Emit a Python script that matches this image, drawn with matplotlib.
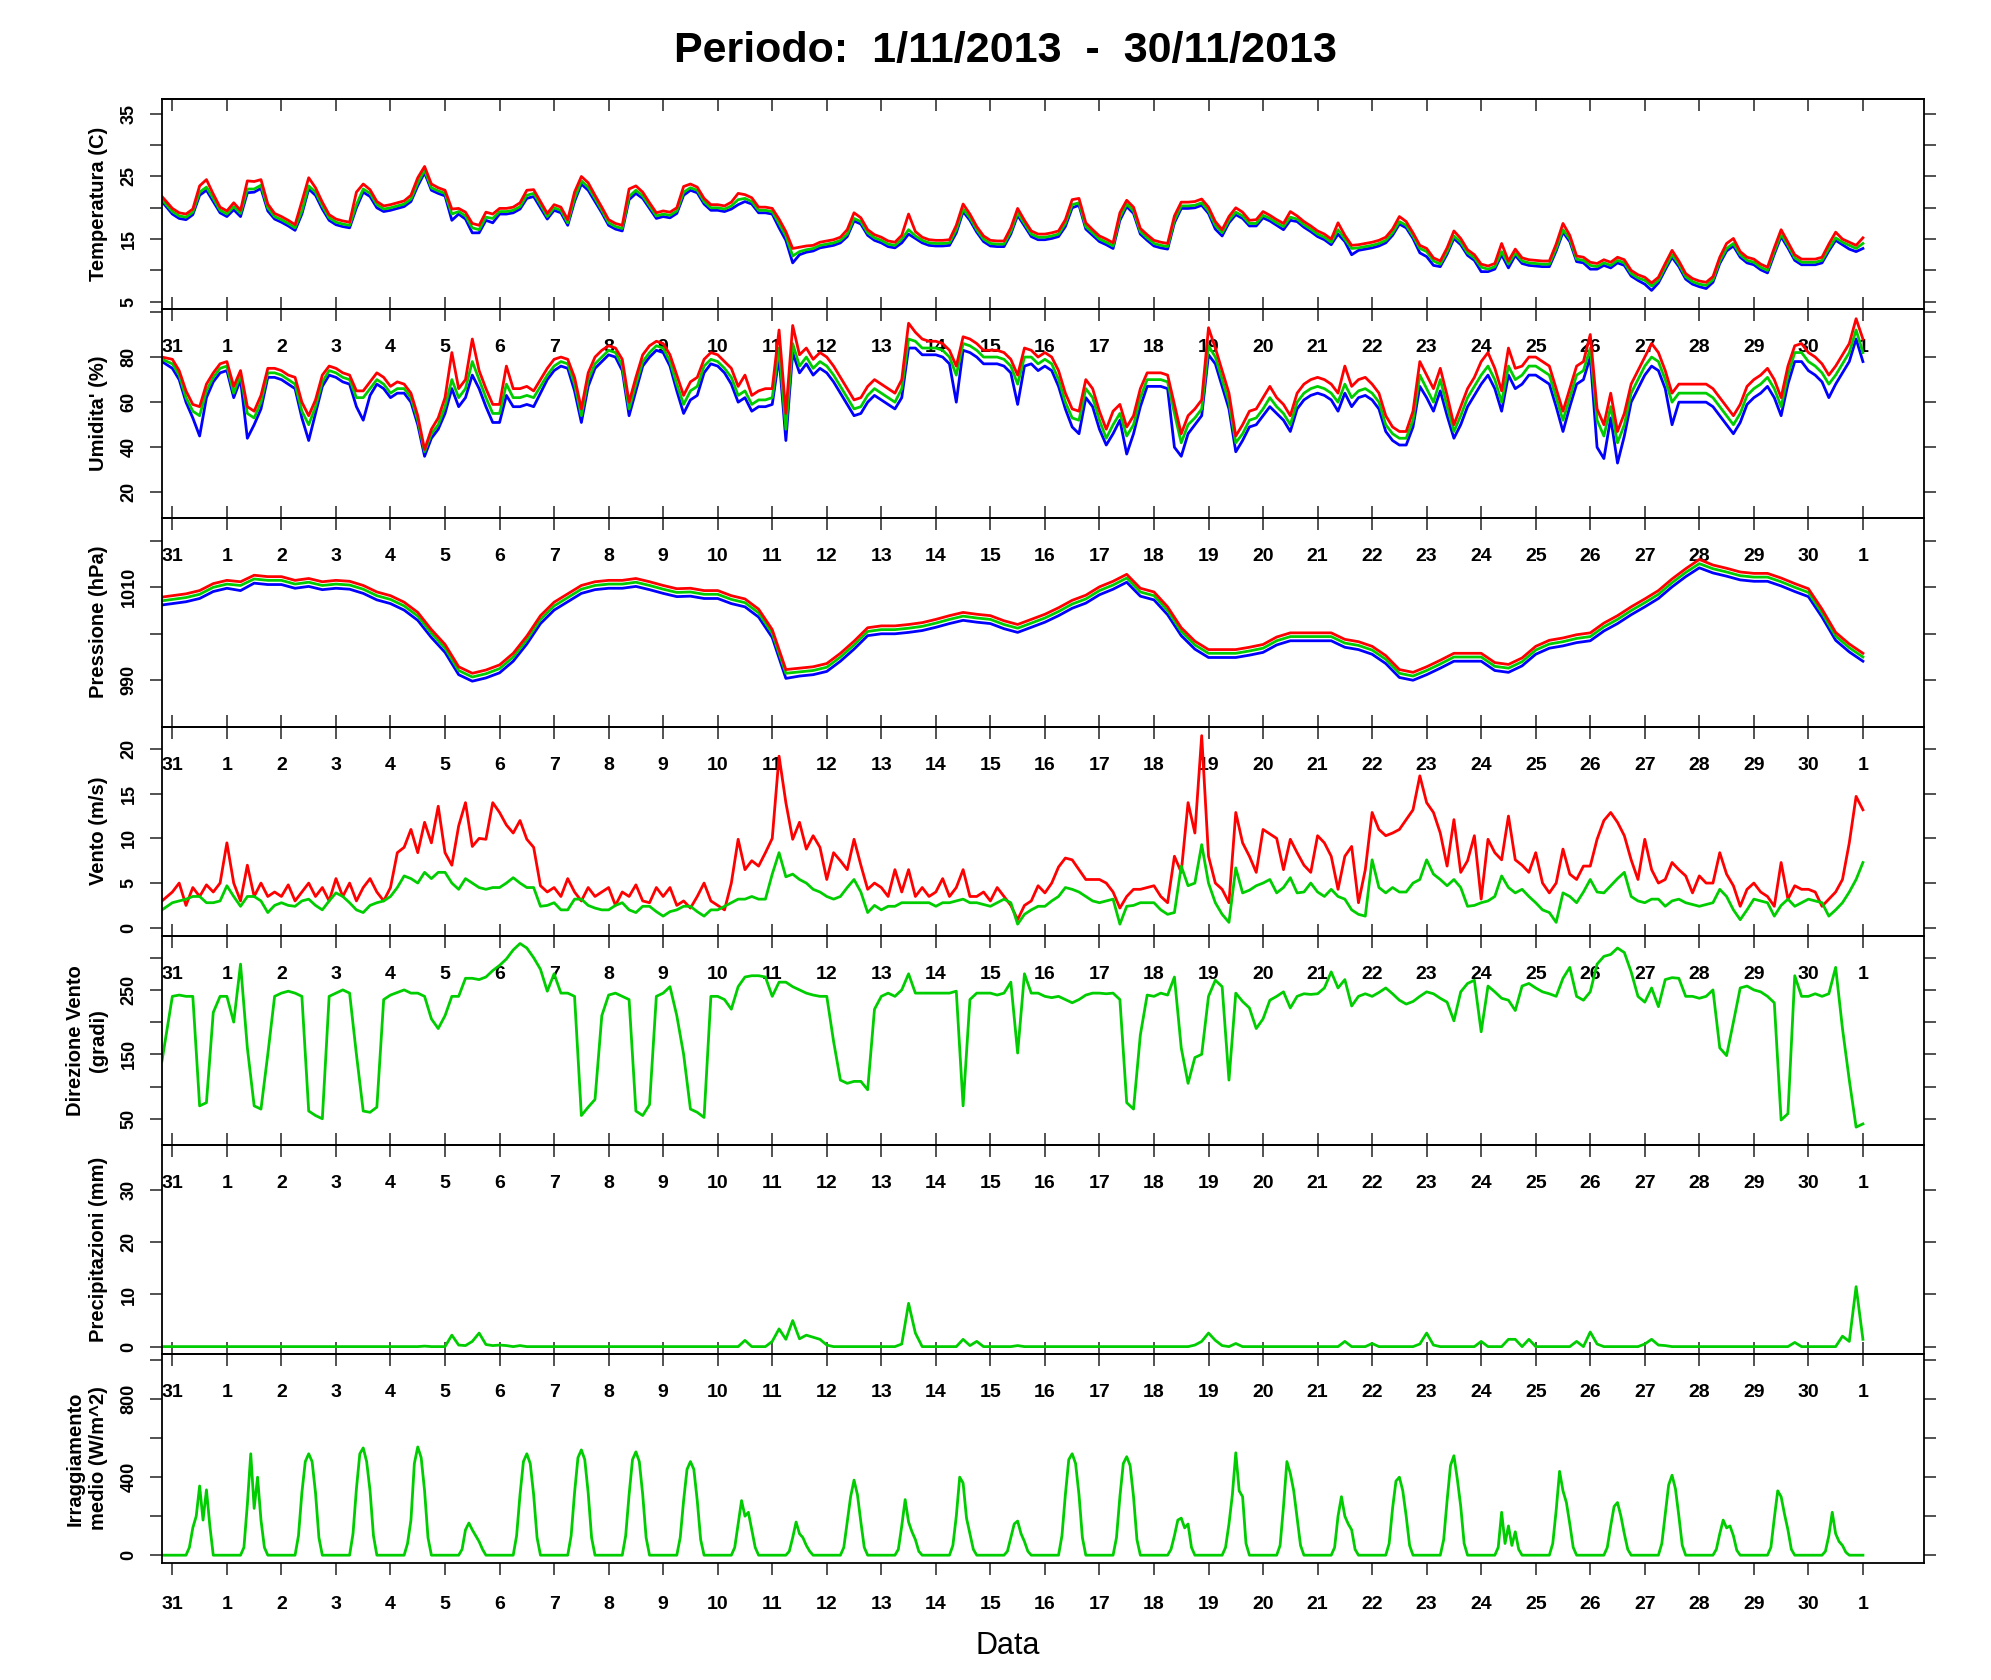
import numpy as np
import matplotlib
matplotlib.use('Agg')
import matplotlib.pyplot as plt

plt.rcParams['font.family'] = ['Liberation Sans', 'DejaVu Sans']

# ---------------- data ----------------
T_START = -0.19          # first sample (days from tick "31")
day_ticks = list(range(32))
day_labels = ['31'] + [str(d) for d in range(1, 31)] + ['1']

# 3-hourly series: start value, 31 days x 8 values, end value
temp_red = [21.8,
 19.9, 19.2, 19.0, 19.8, 23.5, 24.5, 22.2, 20.1,
 19.5, 20.8, 19.6, 24.3, 24.2, 24.5, 20.6, 19.1,
 18.6, 18.0, 17.3, 21.0, 24.8, 23.2, 20.9, 18.9,
 18.2, 17.9, 17.7, 22.5, 23.8, 22.9, 21.0, 20.3,
 20.5, 20.8, 21.1, 22.0, 24.8, 26.6, 23.8, 23.2,
 22.8, 19.8, 19.9, 19.3, 17.5, 17.2, 19.3, 19.0,
 19.9, 19.9, 20.1, 20.8, 22.8, 22.9, 21.0, 19.1,
 20.5, 20.1, 18.1, 22.5, 25.0, 24.0, 22.0, 20.1,
 18.1, 17.5, 17.2, 23.0, 23.5, 22.5, 20.8, 19.2,
 19.5, 19.3, 20.0, 23.4, 23.8, 23.3, 21.5, 20.5,
 20.5, 20.3, 20.9, 22.3, 22.1, 21.6, 20.1, 20.1,
 19.9, 18.2, 16.2, 13.5, 13.7, 13.9, 14.0, 14.5,
 14.7, 14.9, 15.3, 16.5, 19.2, 18.4, 16.5, 15.7,
 15.3, 14.7, 14.5, 15.6, 19.0, 16.2, 15.3, 14.9,
 14.8, 14.8, 14.9, 17.2, 20.6, 19.0, 17.0, 15.5,
 14.8, 14.7, 14.7, 16.8, 19.9, 18.0, 16.3, 15.8,
 15.8, 16.0, 16.3, 18.1, 21.3, 21.5, 17.6, 16.5,
 15.5, 15.0, 14.4, 19.2, 21.2, 20.1, 16.7, 15.7,
 14.8, 14.5, 14.3, 18.7, 20.9, 20.9, 21.0, 21.4,
 20.1, 17.8, 16.5, 18.6, 20.0, 19.3, 18.0, 18.1,
 19.4, 18.8, 18.1, 17.5, 19.4, 18.7, 17.8, 17.1,
 16.3, 15.8, 15.0, 17.6, 15.6, 14.0, 14.1, 14.3,
 14.5, 14.8, 15.3, 16.6, 18.6, 17.8, 16.0, 14.0,
 13.5, 12.0, 11.5, 13.6, 16.3, 15.1, 13.3, 12.5,
 11.0, 10.7, 11.1, 14.3, 11.5, 13.4, 12.0, 11.7,
 11.6, 11.5, 11.5, 14.2, 17.5, 15.6, 12.3, 12.1,
 11.3, 11.1, 11.7, 11.3, 12.1, 11.7, 10.0, 9.3,
 8.9, 8.0, 8.9, 11.1, 13.2, 11.5, 9.5, 8.7,
 8.3, 8.1, 9.0, 12.1, 14.3, 15.1, 13.0, 12.1,
 11.8, 11.0, 10.5, 13.6, 16.5, 14.5, 12.5, 11.8,
 11.8, 11.8, 12.1, 14.2, 16.1, 15.0, 14.5, 14.0,
 15.2]

temp_green = [21.3,
 19.4, 18.7, 18.5, 19.3, 22.5, 23.3, 21.5, 19.6,
 19.0, 20.2, 19.1, 23.0, 23.0, 23.6, 20.0, 18.6,
 18.1, 17.5, 16.8, 19.5, 23.5, 22.5, 20.3, 18.4,
 17.7, 17.4, 17.2, 20.5, 23.0, 22.3, 20.5, 19.8,
 20.0, 20.3, 20.6, 21.4, 24.0, 26.0, 23.2, 22.7,
 22.3, 19.0, 19.4, 18.7, 16.8, 16.5, 18.5, 18.3,
 19.4, 19.4, 19.6, 20.2, 22.0, 22.3, 20.5, 18.6,
 20.0, 19.6, 17.6, 21.5, 24.3, 23.3, 21.5, 19.6,
 17.6, 17.0, 16.7, 21.8, 22.8, 21.9, 20.3, 18.7,
 19.0, 18.8, 19.5, 22.5, 23.2, 22.8, 21.0, 20.0,
 20.0, 19.8, 20.3, 21.3, 21.5, 21.0, 19.6, 19.6,
 19.4, 17.5, 15.5, 12.3, 13.0, 13.3, 13.5, 14.0,
 14.2, 14.4, 14.8, 15.8, 18.3, 17.8, 16.0, 15.2,
 14.8, 14.2, 14.0, 15.0, 16.5, 15.5, 14.8, 14.4,
 14.3, 14.3, 14.4, 16.5, 19.8, 18.4, 16.5, 15.0,
 14.3, 14.2, 14.2, 16.2, 19.2, 17.5, 15.8, 15.3,
 15.3, 15.5, 15.8, 17.5, 20.5, 20.8, 17.0, 16.0,
 15.0, 14.5, 13.9, 18.5, 20.6, 19.5, 16.2, 15.2,
 14.3, 14.0, 13.8, 18.0, 20.3, 20.3, 20.4, 20.8,
 19.5, 17.2, 16.0, 18.0, 19.3, 18.7, 17.5, 17.5,
 18.8, 18.3, 17.6, 17.0, 18.5, 18.2, 17.3, 16.6,
 15.8, 15.3, 14.5, 16.5, 15.0, 13.5, 13.6, 13.8,
 14.0, 14.3, 14.8, 16.0, 17.8, 17.2, 15.5, 13.5,
 13.0, 11.5, 11.0, 13.0, 15.5, 14.5, 12.8, 12.0,
 10.5, 10.2, 10.6, 13.0, 11.0, 12.8, 11.5, 11.2,
 11.1, 11.0, 11.0, 13.5, 16.5, 15.0, 11.8, 11.6,
 10.8, 10.6, 11.2, 10.8, 11.6, 11.2, 9.5, 8.8,
 8.4, 7.5, 8.4, 10.5, 12.5, 11.0, 9.0, 8.2,
 7.8, 7.6, 8.5, 11.5, 13.5, 14.3, 12.5, 11.6,
 11.3, 10.5, 10.0, 13.0, 15.8, 14.0, 12.0, 11.3,
 11.3, 11.3, 11.6, 13.5, 15.2, 14.5, 14.0, 13.5,
 14.3]

temp_blue = [21.0,
 19.0, 18.3, 18.1, 18.9, 22.0, 22.8, 21.0, 19.2,
 18.6, 19.7, 18.6, 22.4, 22.5, 23.1, 19.5, 18.2,
 17.7, 17.1, 16.4, 19.0, 23.0, 22.0, 19.8, 18.0,
 17.3, 17.0, 16.8, 20.0, 22.5, 21.8, 20.0, 19.4,
 19.6, 19.9, 20.2, 21.0, 23.5, 25.6, 22.8, 22.3,
 21.9, 18.0, 19.0, 18.2, 16.0, 16.0, 18.0, 17.6,
 19.0, 19.0, 19.2, 19.8, 21.5, 21.8, 20.0, 18.2,
 19.6, 19.2, 17.2, 21.0, 23.8, 22.8, 21.0, 19.2,
 17.2, 16.6, 16.3, 21.3, 22.3, 21.5, 19.9, 18.3,
 18.6, 18.4, 19.1, 22.0, 22.8, 22.4, 20.6, 19.6,
 19.6, 19.4, 19.8, 20.5, 21.0, 20.6, 19.2, 19.2,
 19.0, 16.8, 14.8, 11.2, 12.5, 12.9, 13.1, 13.6,
 13.8, 14.0, 14.4, 15.4, 17.9, 17.4, 15.6, 14.8,
 14.4, 13.8, 13.6, 14.4, 15.8, 15.1, 14.4, 14.0,
 13.9, 13.9, 14.0, 16.0, 19.4, 18.0, 16.1, 14.6,
 13.9, 13.8, 13.8, 15.8, 18.8, 17.1, 15.4, 14.9,
 14.9, 15.1, 15.4, 17.0, 20.0, 20.4, 16.6, 15.6,
 14.6, 14.1, 13.5, 18.0, 20.2, 19.1, 15.8, 14.8,
 13.9, 13.6, 13.4, 17.6, 19.9, 19.9, 20.0, 20.4,
 19.1, 16.6, 15.5, 17.6, 18.9, 18.3, 17.1, 17.1,
 18.4, 17.9, 17.2, 16.5, 18.0, 17.8, 16.9, 16.2,
 15.4, 14.9, 14.1, 15.8, 14.6, 12.5, 13.2, 13.4,
 13.6, 13.9, 14.4, 15.6, 17.4, 16.8, 15.1, 12.8,
 12.2, 10.8, 10.6, 12.6, 15.1, 14.1, 12.4, 11.6,
 9.8, 9.8, 10.2, 12.5, 10.4, 12.4, 11.1, 10.8,
 10.7, 10.6, 10.6, 13.1, 16.1, 14.6, 11.4, 11.2,
 10.2, 10.2, 10.8, 10.4, 11.2, 10.8, 9.1, 8.4,
 7.8, 6.8, 8.0, 10.1, 12.1, 10.6, 8.6, 7.8,
 7.4, 7.1, 8.1, 11.1, 13.1, 13.9, 12.1, 11.2,
 10.9, 10.1, 9.6, 12.6, 15.4, 13.6, 11.6, 10.9,
 10.9, 10.9, 11.2, 13.1, 14.8, 14.1, 13.4, 13.0,
 13.5]

hum_red = [80,
 79, 74, 65, 59, 58, 68, 73, 77,
 78, 67, 74, 58, 56, 63, 75, 75,
 74, 72, 71, 60, 54, 61, 72, 76,
 75, 73, 72, 65, 65, 69, 73, 71,
 67, 69, 68, 64, 54, 39, 48, 53,
 62, 82, 66, 70, 88, 74, 66, 59,
 59, 76, 66, 66, 67, 65, 70, 75,
 79, 80, 79, 71, 57, 73, 80, 83,
 85, 84, 79, 60, 71, 81, 85, 87,
 86, 81, 72, 63, 69, 71, 79, 82,
 81, 78, 75, 67, 72, 63, 65, 66,
 66, 92, 55, 94, 81, 84, 79, 82,
 80, 76, 71, 66, 61, 62, 67, 70,
 68, 66, 64, 70, 95, 91, 88, 87,
 87, 86, 83, 76, 89, 88, 86, 83,
 83, 83, 82, 79, 72, 84, 83, 80,
 82, 80, 74, 64, 57, 56, 70, 66,
 56, 48, 56, 59, 49, 54, 66, 73,
 73, 73, 72, 59, 46, 54, 57, 61,
 93, 84, 74, 64, 45, 50, 56, 57,
 62, 67, 62, 59, 54, 64, 68, 70,
 71, 70, 68, 64, 76, 67, 70, 71,
 68, 64, 54, 49, 47, 47, 56, 78,
 72, 66, 75, 63, 50, 58, 66, 71,
 78, 82, 75, 65, 84, 75, 76, 80,
 80, 78, 76, 66, 56, 66, 76, 78,
 90, 57, 50, 64, 47, 55, 68, 74,
 80, 86, 82, 74, 64, 68, 68, 68,
 68, 68, 66, 62, 58, 54, 59, 67,
 70, 72, 75, 70, 62, 76, 85, 86,
 82, 80, 77, 72, 76, 81, 86, 97,
 88]

hum_green = [79,
 77, 72, 62, 56, 54, 65, 71, 75,
 76, 64, 72, 55, 53, 60, 73, 73,
 72, 70, 68, 56, 50, 58, 69, 74,
 73, 71, 70, 62, 62, 66, 70, 68,
 64, 66, 66, 62, 52, 38, 46, 50,
 58, 70, 62, 66, 78, 70, 62, 55,
 55, 68, 62, 62, 63, 62, 67, 72,
 76, 78, 77, 68, 54, 70, 77, 80,
 83, 82, 76, 57, 68, 78, 82, 85,
 84, 78, 68, 59, 65, 67, 76, 79,
 78, 75, 71, 63, 65, 59, 61, 61,
 62, 84, 48, 86, 76, 80, 75, 78,
 76, 72, 67, 62, 57, 58, 63, 66,
 64, 62, 60, 66, 88, 87, 84, 84,
 84, 83, 80, 72, 86, 85, 83, 80,
 80, 80, 79, 76, 68, 80, 80, 77,
 79, 77, 70, 60, 53, 52, 66, 62,
 52, 44, 50, 55, 45, 50, 62, 70,
 70, 70, 69, 55, 42, 50, 53, 57,
 85, 80, 70, 60, 42, 46, 52, 53,
 57, 62, 58, 55, 50, 60, 64, 66,
 67, 66, 64, 60, 68, 62, 65, 66,
 64, 60, 50, 46, 44, 44, 52, 72,
 66, 60, 70, 58, 47, 54, 62, 67,
 72, 76, 70, 60, 76, 70, 72, 76,
 76, 74, 72, 62, 52, 62, 72, 74,
 84, 52, 45, 58, 42, 50, 64, 70,
 76, 80, 78, 70, 60, 64, 64, 64,
 64, 64, 62, 58, 54, 50, 55, 63,
 66, 68, 71, 66, 58, 72, 82, 82,
 78, 76, 73, 68, 72, 77, 82, 92,
 82]

hum_blue = [78,
 75, 70, 60, 53, 45, 62, 69, 73,
 74, 62, 70, 44, 50, 57, 71, 71,
 70, 68, 66, 53, 43, 55, 67, 72,
 71, 69, 68, 58, 52, 63, 68, 66,
 62, 64, 64, 60, 50, 36, 44, 48,
 55, 66, 58, 62, 72, 66, 58, 51,
 51, 63, 58, 58, 59, 58, 64, 70,
 74, 76, 75, 65, 51, 67, 75, 78,
 81, 80, 74, 54, 65, 76, 80, 83,
 82, 76, 65, 55, 61, 63, 73, 77,
 76, 73, 68, 60, 62, 56, 58, 58,
 59, 80, 43, 82, 73, 77, 72, 75,
 73, 69, 64, 59, 54, 55, 60, 63,
 61, 59, 57, 62, 84, 84, 81, 81,
 81, 80, 77, 60, 83, 82, 80, 77,
 77, 77, 76, 73, 59, 76, 77, 74,
 76, 74, 67, 57, 49, 46, 62, 58,
 48, 41, 46, 52, 37, 46, 58, 67,
 67, 67, 66, 40, 36, 46, 50, 54,
 81, 77, 67, 57, 38, 43, 49, 50,
 54, 58, 55, 52, 47, 57, 61, 63,
 64, 63, 61, 56, 64, 58, 62, 63,
 61, 57, 47, 43, 41, 41, 49, 67,
 62, 56, 65, 54, 44, 50, 58, 63,
 68, 72, 66, 56, 72, 66, 68, 72,
 72, 70, 68, 58, 47, 58, 68, 70,
 80, 40, 35, 53, 33, 45, 60, 66,
 72, 76, 74, 66, 50, 60, 60, 60,
 60, 60, 58, 54, 50, 46, 51, 59,
 62, 64, 67, 62, 54, 68, 78, 78,
 74, 72, 69, 62, 68, 73, 78, 88,
 78]

# 6-hourly pressure: start value, 31 days x 4 values, end value
pres_red = [1007.9,
 1008.2, 1008.6, 1009.3, 1010.8,
 1011.5, 1011.2, 1012.6, 1012.3,
 1012.3, 1011.5, 1011.9, 1011.2,
 1011.5, 1011.3, 1010.4, 1009.0,
 1008.2, 1006.8, 1004.6, 1000.9,
 997.7, 992.9, 991.5, 992.2,
 993.3, 995.8, 999.5, 1003.9,
 1006.8, 1008.6, 1010.4, 1011.2,
 1011.5, 1011.5, 1011.9, 1011.2,
 1010.4, 1009.7, 1009.8, 1009.3,
 1009.3, 1008.2, 1007.5, 1005.3,
 1000.9, 992.3, 992.6, 992.9,
 993.6, 995.8, 998.4, 1001.3,
 1001.7, 1001.7, 1002.0, 1002.4,
 1003.1, 1003.9, 1004.6, 1004.2,
 1003.9, 1002.8, 1002.0, 1003.1,
 1004.2, 1005.6, 1007.2, 1008.3,
 1010.1, 1011.3, 1012.8, 1009.8,
 1009.0, 1005.8, 1001.3, 998.4,
 996.6, 996.6, 996.6, 997.1,
 997.7, 999.3, 1000.2, 1000.2,
 1000.2, 1000.2, 998.8, 998.3,
 997.3, 995.3, 992.3, 991.7,
 992.9, 994.3, 995.8, 995.8,
 995.8, 993.8, 993.4, 994.8,
 997.3, 998.6, 999.1, 999.8,
 1000.2, 1002.3, 1003.9, 1005.8,
 1007.5, 1009.3, 1011.8, 1014.0,
 1016.0, 1014.8, 1014.1, 1013.3,
 1013.0, 1013.0, 1012.0, 1010.8,
 1009.7, 1005.3, 1000.3, 997.8,
 995.8]

pres_green = [1007.1,
 1007.4, 1007.8, 1008.5, 1010.0,
 1010.7, 1010.4, 1011.8, 1011.5,
 1011.5, 1010.7, 1011.1, 1010.4,
 1010.7, 1010.5, 1009.6, 1008.2,
 1007.4, 1006.0, 1003.8, 1000.1,
 996.9, 992.1, 990.7, 991.4,
 992.5, 995.0, 998.7, 1003.1,
 1006.0, 1007.8, 1009.6, 1010.4,
 1010.7, 1010.7, 1011.1, 1010.4,
 1009.6, 1008.9, 1009.0, 1008.5,
 1008.5, 1007.4, 1006.7, 1004.5,
 1000.1, 991.5, 991.8, 992.1,
 992.8, 995.0, 997.6, 1000.5,
 1000.9, 1000.9, 1001.2, 1001.6,
 1002.3, 1003.1, 1003.8, 1003.4,
 1003.1, 1002.0, 1001.2, 1002.3,
 1003.4, 1004.8, 1006.4, 1007.5,
 1009.3, 1010.5, 1012.0, 1009.0,
 1008.2, 1005.0, 1000.5, 997.6,
 995.8, 995.8, 995.8, 996.3,
 996.9, 998.5, 999.4, 999.4,
 999.4, 999.4, 998.0, 997.5,
 996.5, 994.5, 991.5, 990.9,
 992.1, 993.5, 995.0, 995.0,
 995.0, 993.0, 992.6, 994.0,
 996.5, 997.8, 998.3, 999.0,
 999.4, 1001.5, 1003.1, 1005.0,
 1006.7, 1008.5, 1011.0, 1013.2,
 1015.1, 1014.0, 1013.3, 1012.5,
 1012.2, 1012.2, 1011.2, 1010.0,
 1008.9, 1004.5, 999.5, 997.0,
 995.0]

pres_blue = [1006.2,
 1006.5, 1006.9, 1007.6, 1009.1,
 1009.8, 1009.3, 1010.9, 1010.6,
 1010.6, 1009.8, 1010.2, 1009.5,
 1009.8, 1009.6, 1008.7, 1007.3,
 1006.5, 1005.1, 1002.9, 999.2,
 996.0, 991.2, 989.8, 990.5,
 991.6, 994.1, 997.8, 1002.2,
 1005.1, 1006.9, 1008.7, 1009.5,
 1009.8, 1009.8, 1010.2, 1009.5,
 1008.7, 1008.0, 1008.1, 1007.6,
 1007.6, 1006.5, 1005.8, 1003.6,
 999.2, 990.4, 990.9, 991.2,
 991.9, 994.1, 996.7, 999.6,
 1000.0, 1000.0, 1000.3, 1000.7,
 1001.4, 1002.2, 1002.9, 1002.5,
 1002.2, 1001.1, 1000.3, 1001.4,
 1002.5, 1003.9, 1005.5, 1006.6,
 1008.4, 1009.6, 1011.1, 1008.1,
 1007.3, 1004.1, 999.6, 996.7,
 994.9, 994.9, 994.9, 995.4,
 996.0, 997.6, 998.5, 998.5,
 998.5, 998.5, 997.1, 996.6,
 995.6, 993.6, 990.6, 990.0,
 991.2, 992.6, 994.1, 994.1,
 994.1, 992.1, 991.7, 993.1,
 995.6, 996.9, 997.4, 998.1,
 998.5, 1000.6, 1002.2, 1004.1,
 1005.8, 1007.6, 1010.1, 1012.3,
 1014.2, 1013.1, 1012.4, 1011.6,
 1011.3, 1011.3, 1010.3, 1009.1,
 1008.0, 1003.6, 998.6, 996.1,
 994.1]

wind_gust = [3.0,
 4.0, 5.0, 2.5, 4.5, 3.5, 4.8, 4.0, 5.0,
 9.5, 5.0, 3.0, 7.0, 3.5, 5.0, 3.5, 4.0,
 3.5, 4.8, 3.0, 4.0, 5.0, 3.5, 4.5, 3.0,
 5.5, 3.5, 5.0, 3.0, 4.5, 5.5, 4.0, 3.0,
 4.5, 8.4, 9.0, 11.0, 8.4, 11.8, 9.5, 13.6,
 8.4, 7.0, 11.4, 14.0, 9.1, 10.0, 9.9, 14.0,
 12.9, 11.5, 10.6, 12.0, 9.9, 9.0, 4.7, 4.0,
 4.5, 3.5, 5.5, 4.0, 3.0, 4.5, 3.5, 4.0,
 4.5, 2.5, 4.0, 3.5, 4.8, 3.0, 2.8, 4.5,
 3.5, 4.5, 2.5, 3.0, 2.2, 3.5, 5.0, 3.0,
 2.5, 2.0, 5.0, 9.9, 6.5, 7.5, 6.9, 8.4,
 10.0, 19.2, 14.0, 9.9, 11.8, 8.8, 10.3, 9.0,
 5.4, 8.4, 7.5, 6.5, 9.9, 7.0, 4.3, 5.0,
 4.5, 3.5, 6.5, 4.0, 6.5, 3.5, 4.5, 3.5,
 4.0, 5.5, 3.5, 4.5, 6.5, 3.5, 3.5, 4.0,
 3.0, 4.5, 3.5, 2.5, 0.9, 2.5, 3.0, 4.7,
 3.9, 5.0, 6.8, 7.8, 7.6, 6.5, 5.4, 5.4,
 5.4, 5.0, 4.0, 2.2, 3.5, 4.3, 4.3, 4.5,
 4.7, 3.5, 2.8, 8.0, 6.2, 14.0, 10.6, 21.5,
 8.0, 5.0, 4.3, 2.8, 12.9, 9.5, 8.0, 6.2,
 11.0, 10.5, 10.0, 6.5, 9.9, 8.4, 7.0, 6.2,
 10.3, 9.5, 8.0, 4.3, 8.0, 9.1, 2.8, 6.5,
 12.9, 11.0, 10.3, 10.6, 11.0, 12.1, 13.2, 17.0,
 14.0, 12.9, 10.6, 6.9, 12.1, 6.2, 7.5, 10.3,
 3.2, 9.9, 8.4, 7.6, 12.5, 7.6, 7.0, 6.2,
 8.4, 5.0, 3.9, 5.0, 8.8, 6.0, 5.4, 6.9,
 6.9, 9.9, 12.0, 12.9, 11.8, 10.3, 7.6, 5.4,
 9.9, 6.5, 5.0, 5.4, 7.3, 6.5, 5.8, 3.9,
 5.8, 5.0, 5.0, 8.4, 6.0, 4.7, 2.4, 4.3,
 5.0, 4.0, 3.5, 2.4, 7.3, 3.2, 4.7, 4.3,
 4.3, 4.0, 2.4, 3.2, 4.0, 5.4, 9.5, 14.7,
 13.2]

wind_mean = [2.0,
 2.8, 3.0, 3.2, 3.5, 3.5, 2.8, 2.8, 3.0,
 4.7, 3.5, 2.4, 3.5, 3.5, 3.0, 1.7, 2.5,
 2.8, 2.5, 2.4, 3.0, 3.2, 2.5, 2.0, 3.0,
 3.9, 3.5, 2.8, 2.0, 1.7, 2.5, 2.8, 3.0,
 3.5, 4.5, 5.8, 5.5, 5.0, 6.2, 5.5, 6.2,
 6.2, 5.0, 4.3, 5.5, 5.0, 4.5, 4.3, 4.5,
 4.5, 5.0, 5.6, 5.0, 4.5, 4.5, 2.4, 2.5,
 2.8, 2.0, 2.0, 3.2, 3.2, 2.5, 2.2, 2.0,
 2.0, 2.5, 2.8, 2.0, 1.7, 2.4, 2.4, 1.8,
 1.3, 1.8, 2.0, 2.4, 2.4, 1.8, 1.3, 2.0,
 2.0, 2.4, 2.8, 3.2, 3.2, 3.5, 3.2, 3.2,
 6.0, 8.4, 5.7, 6.0, 5.4, 5.0, 4.3, 4.0,
 3.5, 3.2, 3.5, 4.5, 5.4, 4.0, 1.7, 2.5,
 2.0, 2.4, 2.4, 2.8, 2.8, 2.8, 2.8, 2.8,
 2.4, 2.8, 2.8, 3.0, 3.2, 2.8, 2.8, 2.6,
 2.4, 2.8, 3.2, 2.8, 0.4, 1.5, 2.0, 2.4,
 2.4, 3.0, 3.5, 4.5, 4.3, 4.0, 3.5, 3.0,
 2.8, 3.0, 3.2, 0.4, 2.4, 2.5, 2.8, 2.8,
 2.8, 2.0, 1.5, 1.7, 6.9, 4.7, 5.0, 9.3,
 5.0, 2.8, 1.5, 0.6, 6.7, 3.9, 4.2, 4.7,
 5.0, 5.4, 3.9, 4.5, 5.6, 3.9, 4.0, 5.0,
 4.0, 3.5, 4.3, 3.5, 3.2, 2.0, 1.5, 1.3,
 7.6, 4.5, 3.9, 4.5, 4.0, 4.0, 5.0, 5.4,
 7.6, 6.0, 5.4, 4.7, 5.4, 4.5, 2.4, 2.5,
 2.8, 3.0, 3.5, 5.8, 4.5, 3.9, 4.3, 3.5,
 2.8, 2.0, 1.7, 0.6, 3.9, 3.5, 2.8, 4.0,
 5.4, 4.0, 3.9, 4.7, 5.5, 6.2, 3.5, 3.0,
 2.8, 3.2, 3.2, 2.4, 3.0, 3.2, 2.8, 2.6,
 2.4, 2.6, 2.8, 4.3, 3.5, 2.0, 0.9, 2.0,
 3.2, 3.0, 2.8, 1.3, 2.5, 3.2, 2.4, 2.8,
 3.2, 3.0, 2.8, 1.3, 2.0, 2.8, 4.0, 5.4,
 7.3]

wind_dir = [140,
 240, 242, 240, 240, 70, 75, 215, 240,
 240, 200, 290, 160, 70, 65, 150, 240,
 245, 248, 245, 240, 62, 55, 50, 240,
 245, 250, 245, 150, 62, 60, 68, 235,
 242, 246, 250, 245, 245, 240, 205, 190,
 210, 240, 240, 268, 268, 266, 270, 280,
 288, 298, 312, 322, 315, 300, 282, 248,
 275, 245, 245, 240, 55, 68, 80, 210,
 242, 245, 240, 235, 62, 55, 72, 240,
 245, 255, 210, 150, 65, 60, 52, 240,
 240, 235, 220, 255, 270, 272, 272, 270,
 240, 262, 262, 255, 250, 245, 242, 240,
 240, 170, 110, 105, 108, 108, 95, 220,
 240, 245, 240, 250, 275, 245, 245, 245,
 245, 245, 245, 248, 70, 235, 245, 245,
 245, 242, 245, 262, 152, 275, 245, 245,
 240, 238, 240, 235, 230, 235, 242, 245,
 245, 244, 245, 235, 75, 65, 180, 242,
 240, 245, 242, 270, 160, 105, 145, 150,
 240, 265, 255, 110, 245, 232, 222, 190,
 205, 234, 240, 247, 222, 240, 244, 243,
 244, 253, 278, 253, 266, 225, 240, 244,
 240, 246, 253, 244, 234, 228, 232, 240,
 247, 244, 237, 231, 202, 247, 260, 265,
 185, 256, 247, 237, 234, 218, 256, 260,
 253, 247, 244, 240, 268, 285, 240, 234,
 247, 290, 302, 305, 315, 308, 278, 240,
 231, 253, 224, 266, 269, 268, 240, 240,
 237, 240, 250, 160, 148, 200, 253, 256,
 250, 247, 240, 230, 48, 58, 272, 240,
 240, 244, 240, 244, 285, 190, 110, 37,
 42]

precip = [0,
 0, 0, 0, 0, 0, 0, 0, 0,
 0, 0, 0, 0, 0, 0, 0, 0,
 0, 0, 0, 0, 0, 0, 0, 0,
 0, 0, 0, 0, 0, 0, 0, 0,
 0, 0, 0, 0, 0, 0.1, 0, 0,
 0, 2.2, 0.3, 0.2, 1.0, 2.6, 0.4, 0.2,
 0.3, 0.2, 0, 0.2, 0, 0, 0, 0,
 0, 0, 0, 0, 0, 0, 0, 0,
 0, 0, 0, 0, 0, 0, 0, 0,
 0, 0, 0, 0, 0, 0, 0, 0,
 0, 0, 0, 0, 1.2, 0, 0, 0,
 1.0, 3.4, 1.4, 5.0, 1.5, 2.2, 1.8, 1.4,
 0.3, 0, 0, 0, 0, 0, 0, 0,
 0, 0, 0, 0.5, 8.3, 2.6, 0, 0,
 0, 0, 0, 0, 1.4, 0.2, 1.0, 0,
 0, 0, 0, 0, 0.2, 0, 0, 0,
 0, 0, 0, 0, 0, 0, 0, 0,
 0, 0, 0, 0, 0, 0, 0, 0,
 0, 0, 0, 0, 0, 0, 0.3, 1.0,
 2.6, 1.2, 0.2, 0, 0.6, 0, 0, 0,
 0, 0, 0, 0, 0, 0, 0, 0,
 0, 0, 0, 0, 1.0, 0, 0, 0,
 0.6, 0, 0, 0, 0, 0, 0, 0.5,
 2.6, 0.3, 0, 0, 0, 0, 0, 0,
 1.0, 0, 0, 0, 1.4, 1.4, 0, 1.4,
 0, 0, 0, 0, 0, 0, 1.0, 0,
 2.8, 0.5, 0, 0, 0, 0, 0, 0,
 0.5, 1.4, 0.3, 0.2, 0, 0, 0, 0,
 0, 0, 0, 0, 0, 0, 0, 0,
 0, 0, 0, 0, 0, 0, 0.8, 0,
 0, 0, 0, 0, 0, 2.0, 1.0, 11.5,
 1.4]

# radiation every 1.5 h: one row of 16 values per day
rad_rows = [
 [0, 0, 0, 0, 0, 40, 140, 200, 355, 180, 335, 150, 0, 0, 0, 0],
 [0, 0, 0, 0, 0, 40, 260, 520, 240, 400, 180, 40, 0, 0, 0, 0],
 [0, 0, 0, 0, 0, 100, 320, 480, 520, 480, 320, 90, 0, 0, 0, 0],
 [0, 0, 0, 0, 0, 110, 340, 520, 550, 480, 330, 100, 0, 0, 0, 0],
 [0, 0, 0, 0, 0, 60, 180, 470, 555, 500, 330, 90, 0, 0, 0, 0],
 [0, 0, 0, 0, 0, 30, 130, 165, 130, 100, 70, 30, 0, 0, 0, 0],
 [0, 0, 0, 0, 0, 100, 310, 480, 520, 470, 310, 90, 0, 0, 0, 0],
 [0, 0, 0, 0, 0, 100, 320, 500, 540, 490, 320, 90, 0, 0, 0, 0],
 [0, 0, 0, 0, 0, 100, 310, 490, 530, 480, 310, 90, 0, 0, 0, 0],
 [0, 0, 0, 0, 0, 90, 280, 440, 480, 440, 280, 80, 0, 0, 0, 0],
 [0, 0, 0, 0, 0, 40, 160, 280, 200, 220, 130, 40, 0, 0, 0, 0],
 [0, 0, 0, 0, 0, 20, 90, 170, 110, 90, 50, 20, 0, 0, 0, 0],
 [0, 0, 0, 0, 0, 40, 170, 300, 385, 310, 170, 40, 0, 0, 0, 0],
 [0, 0, 0, 0, 0, 30, 150, 285, 170, 120, 80, 20, 0, 0, 0, 0],
 [0, 0, 0, 0, 0, 50, 200, 400, 370, 190, 110, 30, 0, 0, 0, 0],
 [0, 0, 0, 0, 0, 20, 90, 160, 175, 110, 70, 20, 0, 0, 0, 0],
 [0, 0, 0, 0, 0, 100, 310, 490, 520, 470, 310, 90, 0, 0, 0, 0],
 [0, 0, 0, 0, 0, 90, 300, 470, 505, 460, 300, 80, 0, 0, 0, 0],
 [0, 0, 0, 0, 0, 30, 100, 180, 190, 140, 160, 40, 0, 0, 0, 0],
 [0, 0, 0, 0, 0, 40, 160, 310, 525, 330, 300, 60, 0, 0, 0, 0],
 [0, 0, 0, 0, 0, 50, 250, 480, 420, 330, 190, 50, 0, 0, 0, 0],
 [0, 0, 0, 0, 0, 40, 200, 300, 200, 160, 130, 30, 0, 0, 0, 0],
 [0, 0, 0, 0, 0, 60, 240, 380, 400, 330, 200, 50, 0, 0, 0, 0],
 [0, 0, 0, 0, 0, 80, 280, 460, 510, 390, 250, 60, 0, 0, 0, 0],
 [0, 0, 0, 0, 0, 40, 220, 60, 150, 50, 120, 30, 0, 0, 0, 0],
 [0, 0, 0, 0, 0, 60, 230, 430, 330, 270, 160, 40, 0, 0, 0, 0],
 [0, 0, 0, 0, 0, 40, 150, 250, 270, 200, 110, 30, 0, 0, 0, 0],
 [0, 0, 0, 0, 0, 60, 210, 360, 410, 340, 200, 50, 0, 0, 0, 0],
 [0, 0, 0, 0, 0, 30, 110, 180, 140, 150, 100, 25, 0, 0, 0, 0],
 [0, 0, 0, 0, 0, 40, 190, 330, 300, 210, 130, 30, 0, 0, 0, 0],
 [0, 0, 0, 0, 0, 20, 100, 220, 110, 70, 50, 15, 0, 0, 0, 0],
]
rad_start, rad_end = 0, 0

panel_labels = ['Temperatura (C)', "Umidita' (%)", 'Pressione (hPa)',
                'Vento (m/s)', 'Direzione Vento\n(gradi)',
                'Precipitazioni (mm)', 'Irraggiamento\nmedio (W/m^2)']

# ---------------- time axes ----------------
t3 = np.concatenate([[T_START], np.arange(31 * 8 + 1) / 8.0])
t6 = np.concatenate([[T_START], np.arange(31 * 4 + 1) / 4.0])
t_rad = np.concatenate([[T_START], np.arange(31 * 16 + 1) / 16.0])
radiation = [rad_start] + [v for row in rad_rows for v in row] + [rad_end]

for name, arr, tt in [('temp_red', temp_red, t3), ('temp_green', temp_green, t3),
                      ('temp_blue', temp_blue, t3), ('hum_red', hum_red, t3),
                      ('hum_green', hum_green, t3), ('hum_blue', hum_blue, t3),
                      ('pres_red', pres_red, t6), ('pres_green', pres_green, t6),
                      ('pres_blue', pres_blue, t6), ('wind_gust', wind_gust, t3),
                      ('wind_mean', wind_mean, t3), ('wind_dir', wind_dir, t3),
                      ('precip', precip, t3), ('radiation', radiation, t_rad)]:
    if len(arr) != len(tt):
        raise ValueError(f'{name}: {len(arr)} values, expected {len(tt)}')

# ---------------- figure ----------------
RED, GREEN, BLUE = '#FF0000', '#00CD00', '#0000FF'
LW = 2.0
W_PX, H_PX = 1991, 1680
fig = plt.figure(figsize=(W_PX / 100, H_PX / 100), dpi=100)

left_px, right_px = 162, 1924
top_px, panel_px = 99.5, 209.07
XLIM = (-0.19, 32.12)

panels = [
    dict(ylim=(3.9, 37.3), ticks=[5, 10, 15, 20, 25, 30, 35], labels=[5, 15, 25, 35]),
    dict(ylim=(8.8, 101.5), ticks=[20, 40, 60, 80, 100], labels=[20, 40, 60, 80]),
    dict(ylim=(980, 1025), ticks=[990, 1000, 1010, 1020], labels=[990, 1010]),
    dict(ylim=(-0.9, 22.5), ticks=[0, 5, 10, 15, 20], labels=[0, 5, 10, 15, 20]),
    dict(ylim=(9.5, 334), ticks=[50, 100, 150, 200, 250, 300], labels=[50, 150, 250]),
    dict(ylim=(-1.4, 38.7), ticks=[0, 10, 20, 30], labels=[0, 10, 20, 30]),
    dict(ylim=(-40, 1032), ticks=[0, 200, 400, 600, 800, 1000], labels=[0, 400, 800]),
]

axes = []
for i in range(7):
    y0 = 1 - (top_px + (i + 1) * panel_px) / H_PX
    ax = fig.add_axes([left_px / W_PX, y0, (right_px - left_px) / W_PX, panel_px / H_PX])
    ax.set_facecolor('none')
    axes.append(ax)

ax_t, ax_h, ax_p, ax_w, ax_d, ax_r, ax_s = axes
ax_t.plot(t3, temp_blue, color=BLUE, lw=LW)
ax_t.plot(t3, temp_green, color=GREEN, lw=LW)
ax_t.plot(t3, temp_red, color=RED, lw=LW)
ax_h.plot(t3, hum_blue, color=BLUE, lw=LW)
ax_h.plot(t3, hum_green, color=GREEN, lw=LW)
ax_h.plot(t3, hum_red, color=RED, lw=LW)
ax_p.plot(t6, pres_blue, color=BLUE, lw=LW)
ax_p.plot(t6, pres_green, color=GREEN, lw=LW)
ax_p.plot(t6, pres_red, color=RED, lw=LW)
ax_w.plot(t3, wind_gust, color=RED, lw=LW)
ax_w.plot(t3, wind_mean, color=GREEN, lw=LW)
ax_d.plot(t3, wind_dir, color=GREEN, lw=LW)
ax_r.plot(t3, precip, color=GREEN, lw=LW)
ax_s.plot(t_rad, radiation, color=GREEN, lw=LW)

TICK_PT = 12 * 0.72
for i, (ax, cfg) in enumerate(zip(axes, panels)):
    ax.set_xlim(*XLIM)
    ax.set_ylim(*cfg['ylim'])
    for sp in ax.spines.values():
        sp.set_linewidth(1.3)
    ax.set_xticks(day_ticks)
    ax.set_xticklabels(day_labels, fontsize=14, fontweight='bold')
    last = (i == 6)
    ax.tick_params(axis='x', direction='out' if last else 'inout',
                   length=TICK_PT if last else 2 * TICK_PT, width=1.3,
                   color='#444444', pad=13 if not last else 15,
                   bottom=True, top=False, labelbottom=True)
    ax.set_yticks(cfg['ticks'])
    ax.set_yticklabels([str(v) if v in cfg['labels'] else '' for v in cfg['ticks']],
                       fontsize=13, fontweight='bold')
    ax.tick_params(axis='y', direction='out', length=TICK_PT, width=1.3,
                   color='#444444', left=True, right=True, labelleft=True,
                   labelright=False, labelrotation=90, pad=9)
    for lab in ax.get_yticklabels():
        lab.set_va('center')
    cy = 1 - (top_px + (i + 0.5) * panel_px) / H_PX
    two_lines = '\n' in panel_labels[i]
    fig.text((87 if two_lines else 99) / W_PX, cy, panel_labels[i], rotation=90,
             ha='center', va='center', fontsize=14.5, fontweight='bold',
             linespacing=1.3, multialignment='center')

# inward ticks along the top of the first panel
sec = ax_t.secondary_xaxis('top')
sec.set_xticks(day_ticks)
sec.tick_params(axis='x', direction='in', length=TICK_PT, width=1.3,
                color='#444444', labeltop=False)
sec.spines['top'].set_linewidth(1.3)

fig.text(0.505, 1 - 51 / H_PX, 'Periodo:  1/11/2013  -  30/11/2013',
         ha='center', va='center', fontsize=31, fontweight='bold')
fig.text(0.506, 1 - 1646 / H_PX, 'Data', ha='center', va='center', fontsize=22)

fig.savefig('out.png', dpi=100, facecolor='white')
